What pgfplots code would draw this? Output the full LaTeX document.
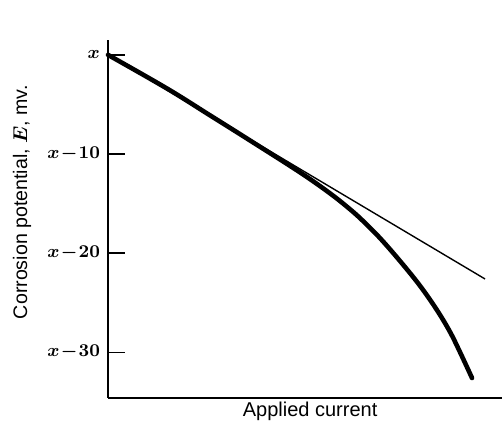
\documentclass[border=0pt]{standalone}
\usepackage{fontspec}
\setmainfont{Liberation Sans}
\usepackage{pgfplots}
\pgfplotsset{compat=1.18}
\begin{document}
\begin{tikzpicture}
\begin{axis}[
  scale only axis,
  width=197pt, height=179pt,
  xmin=0, xmax=100,
  ymin=-34.6, ymax=1.5,
  axis lines*=left,
  axis line style={line width=1pt},
  xtick=\empty,
  ytick={-30,-20,-10,0},
  yticklabels={$x\mskip1mu{-}\mskip1mu30$,$x\mskip1mu{-}\mskip1mu20$,$x\mskip1mu{-}\mskip1mu10$,$x$},
  yticklabel style={font=\fontsize{9.5}{11}\selectfont\boldmath, xshift=-0.5pt},
  tick align=inside,
  major tick length=8.5pt,
  tick style={line width=0.8pt, black},
  ytick pos=left,
  xlabel={Applied current},
  ylabel={Corrosion potential, {\boldmath$E$}, mv.},
  xlabel style={font=\fontsize{10}{12}\selectfont, at={(axis description cs:0.513,-0.037)}, anchor=center},
  ylabel style={font=\fontsize{9.8}{12}\selectfont, at={(axis description cs:-0.218,0.547)}, anchor=center},
  clip=false,
]
\addplot[black, line width=0.7pt] coordinates {(0,0) (95.7,-22.6)};
\addplot[black, line width=2.3pt, smooth, tension=0.6, line cap=round] coordinates {
 (0,0) (15,-3.4) (25.9,-6.1) (36,-8.62) (48.7,-11.84) (56.3,-13.95)
 (61.4,-15.56) (64.7,-16.74) (69,-18.46) (74.1,-20.78) (79.2,-23.29)
 (83.5,-25.74) (86.8,-27.93) (89.3,-29.94) (92.4,-32.59)};
\coordinate (SW) at (rel axis cs:0,0);
\coordinate (NE) at (rel axis cs:1,1);
\end{axis}
\pgfresetboundingbox
\path ([shift={(-54pt,-17.5pt)}]SW) rectangle ([shift={(1pt,20pt)}]NE);
\end{tikzpicture}
\end{document}
